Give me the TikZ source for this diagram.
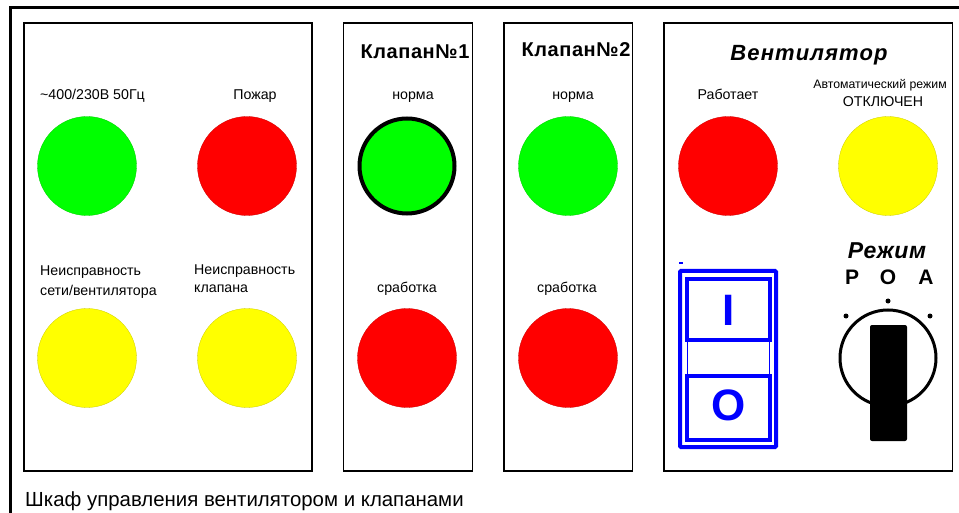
\documentclass[tikz,border=0pt]{standalone}
\usepackage{fontspec}
\setmainfont{Liberation Sans}
\usetikzlibrary{positioning}
\definecolor{lgreen}{RGB}{0,255,0}
\definecolor{lred}{RGB}{255,0,0}
\definecolor{lyellow}{RGB}{255,255,0}
\definecolor{swblue}{RGB}{0,0,255}
\tikzset{
  lamp/.style={circle,minimum size=99pt,inner sep=0pt,fill=#1,draw=#1!80!black,line width=0.3pt},
  lbl/.style={anchor=base,inner sep=0pt,font=\fontsize{14.2}{17}\selectfont},
  title/.style={anchor=base,inner sep=0pt,font=\fontsize{20}{22}\selectfont\bfseries\addfontfeature{LetterSpace=3}},
  panel/.style={draw,line width=1.2pt},
}
\begin{document}
\begin{tikzpicture}[x=1pt,y=-1pt]
  \clip (0,0) rectangle (959,513);
  \fill[white] (0,0) rectangle (959,513);
  \draw[line width=3pt] (10,530) -- (10,8) -- (980,8);
  \draw[panel] (24,23) rectangle (312,471);
  \draw[panel] (343.5,23) rectangle (472.5,471);
  \draw[panel] (504,23) rectangle (632.5,471);
  \draw[panel] (664,23) rectangle (952.5,471);

  \node[lamp=lgreen] (mains) at (87,166) {};
  \node[lamp=lred] (fire) at (247,166) {};
  \node[lamp=lyellow] (netfault) at (87,358) {};
  \node[lamp=lyellow] (valvefault) at (247,358) {};
  \node[lamp=lgreen,draw=black,line width=4pt,minimum size=95pt] (vaok) at (407,166) {};
  \node[lamp=lred] (vatrip) at (407,358) {};
  \node[lamp=lgreen] (vbok) at (568,166) {};
  \node[lamp=lred] (vbtrip) at (568,358) {};
  \node[lamp=lred] (fanrun) at (728,166) {};
  \node[lamp=lyellow] (fanauto) at (888,166) {};

  \node[lbl,anchor=base west] (mainslbl) at (40,100) {\textasciitilde400/230В 50Гц};
  \node[lbl] (firelbl) at (255,100) {Пожар};
  \node[lbl,anchor=base west] (netlbla) at (40,276) {Неисправность};
  \node[lbl,anchor=base west] (netlblb) at (40,295) {сети/вентилятора};
  \node[lbl,anchor=base west] (valvelbla) at (194,275) {Неисправность};
  \node[lbl,anchor=base west] (valvelblb) at (194,293) {клапана};

  \node[title] (vatitle) at (415,59) {Клапан№1};
  \node[lbl] (vaoklbl) at (413,100) {норма};
  \node[lbl] (vatriplbl) at (407,292) {сработка};
  \node[title] (vbtitle) at (576,57) {Клапан№2};
  \node[lbl] (vboklbl) at (573,100) {норма};
  \node[lbl] (vbtriplbl) at (567,292) {сработка};

  \node[title,font=\fontsize{22}{24}\selectfont\bfseries\itshape\addfontfeature{LetterSpace=5}] (fantitle) at (809,61) {Вентилятор};
  \node[lbl] (fanrunlbl) at (728,100) {Работает};
  \node[lbl,font=\fontsize{12.3}{14}\selectfont] (fanautolbla) at (880,89) {Автоматический режим};
  \node[lbl] (fanautolblb) at (883,107) {ОТКЛЮЧЕН};

  \draw[swblue,line width=4pt,rounded corners=1pt] (680,271) rectangle (776,447);
  \draw[swblue,line width=3.5pt] (687,279) rectangle (770,340);
  \draw[swblue,line width=1pt] (687,340) rectangle (769,376);
  \draw[swblue,line width=3.5pt] (687,376) rectangle (770,440);
  \draw[swblue,line width=1.2pt] (679,263) -- (683,263);
  \node[swblue,font=\fontsize{44}{44}\selectfont\bfseries,inner sep=0pt] (swon) at (729,310) {I};
  \node[swblue,font=\fontsize{44}{44}\selectfont\bfseries,inner sep=0pt] (swoff) at (729,405) {O};

  \node[title,font=\fontsize{23}{25}\selectfont\bfseries\itshape\addfontfeature{LetterSpace=3}] (modetitle) at (887,259) {Режим};
  \node[title,font=\fontsize{21}{23}\selectfont\bfseries] (posp) at (852,285) {Р};
  \node[title,font=\fontsize{21}{23}\selectfont\bfseries] (poso) at (888,285) {О};
  \node[title,font=\fontsize{21}{23}\selectfont\bfseries] (posa) at (926,285) {А};
  \fill (888,301) circle (2.5) (846,316) circle (2.5) (930,316) circle (2.5);
  \draw[line width=3pt] (888,358) circle (48);
  \fill[rounded corners=2pt] (870,325) rectangle (907,441);

  \node[lbl,anchor=base west,font=\fontsize{20.4}{23}\selectfont] (caption) at (25,506) {Шкаф управления вентилятором и клапанами};
\end{tikzpicture}
\end{document}
